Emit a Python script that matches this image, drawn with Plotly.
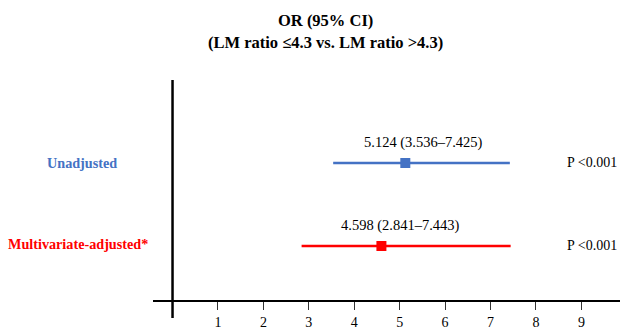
import plotly.graph_objects as go

# ---- data ----
groups = ["Unadjusted", "Multivariate-adjusted*"]
or_values = [5.124, 4.598]
ci_low = [3.536, 2.841]
ci_high = [7.425, 7.443]
p_labels = ["P <0.001", "P <0.001"]
row_pos = [2, 1]
colors = ["#4472C4", "#FF0000"]
tick_vals = [1, 2, 3, 4, 5, 6, 7, 8, 9]
title_lines = ["OR (95% CI)", "(LM ratio \u22644.3 vs. LM ratio >4.3)"]

FONT = "Liberation Serif, Times New Roman, serif"
W, H = 620, 329
ML, MR, MT, MB = 153, 0, 80, 29
PW, PH = W - ML - MR, H - MT - MB


def px_x(px):
    return (px - ML) / PW


def px_y(py):
    return (H - MB - py) / PH


fig = go.Figure()

for i, g in enumerate(groups):
    fig.add_trace(go.Scatter(
        x=[or_values[i]], y=[row_pos[i]],
        mode="markers",
        marker=dict(symbol="square", size=10, color=colors[i], line=dict(width=0)),
        error_x=dict(type="data", symmetric=False,
                     array=[ci_high[i] - or_values[i]],
                     arrayminus=[or_values[i] - ci_low[i]],
                     color=colors[i], thickness=2.5, width=0),
        showlegend=False, hoverinfo="skip",
    ))

annotations = []
label_x = [5.52, 5.02]
for i, g in enumerate(groups):
    annotations.append(dict(
        x=label_x[i], y=row_pos[i], xref="x", yref="y", yshift=20,
        text=f"{or_values[i]:.3f} ({ci_low[i]:.3f}\u2013{ci_high[i]:.3f})",
        showarrow=False, font=dict(family=FONT, size=14.5, color="black"),
        xanchor="center", yanchor="middle"))
    annotations.append(dict(
        x=px_x(565), y=row_pos[i], xref="paper", yref="y",
        text=p_labels[i], showarrow=False,
        font=dict(family=FONT, size=14, color="black"),
        xanchor="left", yanchor="middle"))
    annotations.append(dict(
        x=px_x([82, 78][i]), y=row_pos[i], xref="paper", yref="y",
        yshift=[0, 2][i],
        text=f"<b>{g}</b>", showarrow=False,
        font=dict(family=FONT, size=14.2, color=colors[i]),
        xanchor="center", yanchor="middle"))

for j, (line, ypx) in enumerate(zip(title_lines, [20, 43])):
    annotations.append(dict(
        x=px_x(325), y=px_y(ypx), xref="paper", yref="paper",
        text=f"<b>{line}</b>",
        showarrow=False, font=dict(family=FONT, size=16.5, color="black"),
        xanchor="center", yanchor="middle", align="center"))

fig.add_shape(type="line", xref="x", yref="paper",
              x0=0, x1=0, y0=px_y(318), y1=1,
              line=dict(color="black", width=2.5))

fig.update_layout(
    width=W, height=H,
    margin=dict(l=ML, r=MR, t=MT, b=MB),
    plot_bgcolor="white", paper_bgcolor="white",
    annotations=annotations,
    xaxis=dict(range=[-0.43, 9.85], tickvals=tick_vals,
               ticks="outside", ticklen=8, tickwidth=1, tickcolor="#333",
               showline=True, linecolor="black", linewidth=2,
               showgrid=False, zeroline=False,
               tickfont=dict(family=FONT, size=14, color="black")),
    yaxis=dict(range=[0.349, 3.0], visible=False, showgrid=False, zeroline=False),
)

fig.write_html("out.html", config={"displayModeBar": False},
               post_script="document.body.style.margin='0';document.body.style.overflow='hidden';")
